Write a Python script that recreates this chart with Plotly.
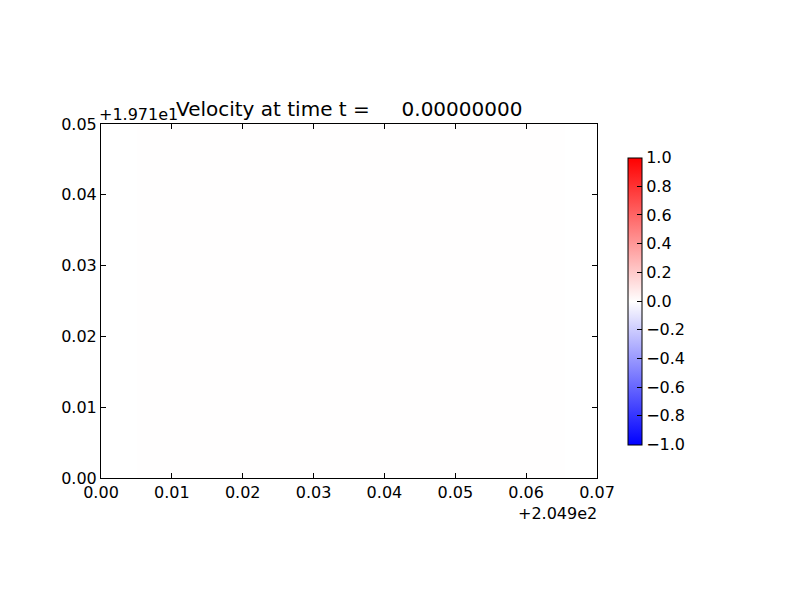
import plotly.graph_objects as go

# ---- data ----
x_offset = 204.9
y_offset = 19.71
# heatmap cell edges (absolute coordinates)
x_edges = [204.9051, 204.9653]
y_edges = [19.71, 19.76]
velocity = [[0.0]]

x_ticks = [0.00, 0.01, 0.02, 0.03, 0.04, 0.05, 0.06, 0.07]
x_tick_labels = ["0.00", "0.01", "0.02", "0.03", "0.04", "0.05", "0.06", "0.07"]
y_ticks = [0.00, 0.01, 0.02, 0.03, 0.04, 0.05]
y_tick_labels = ["0.00", "0.01", "0.02", "0.03", "0.04", "0.05"]
cb_ticks = [-1.0, -0.8, -0.6, -0.4, -0.2, 0.0, 0.2, 0.4, 0.6, 0.8, 1.0]
cb_tick_labels = ["−1.0", "−0.8", "−0.6", "−0.4", "−0.2", "0.0", "0.2", "0.4", "0.6", "0.8", "1.0"]
time_value = 0.0

FONT = "DejaVu Sans"
bwr = [[0.0, "rgb(0,0,255)"], [0.5, "rgb(255,254,254)"], [1.0, "rgb(255,0,0)"]]

fig = go.Figure()
fig.add_trace(go.Heatmap(
    x=x_edges, y=y_edges, z=velocity,
    colorscale=bwr, zmin=-1, zmax=1,
    hoverinfo="skip",
    colorbar=dict(
        x=(627 - 100) / 496, xanchor="left", xpad=0,
        y=0.5, yanchor="middle", len=(443 - 156) / 354, lenmode="fraction",
        thickness=14, thicknessmode="pixels",
        outlinewidth=1, outlinecolor="black",
        ticks="inside", ticklen=5, tickcolor="black", tickwidth=1,
        tickvals=cb_ticks, ticktext=cb_tick_labels,
        tickfont=dict(family=FONT, size=16, color="black"),
        ypad=0,
    ),
))

fig.update_layout(
    width=800, height=600,
    margin=dict(l=93, r=211, t=116, b=130, pad=0),
    paper_bgcolor="white", plot_bgcolor="white",
    font=dict(family=FONT, size=16, color="black"),
    showlegend=False,
    xaxis=dict(
        range=[x_offset + x_ticks[0], x_offset + x_ticks[-1]],
        tickvals=[x_offset + v for v in x_ticks], ticktext=x_tick_labels,
        ticks="inside", ticklen=5, tickcolor="black", tickwidth=1,
        showline=True, linecolor="black", linewidth=1, mirror="ticks",
        showgrid=False, zeroline=False, automargin=False,
        tickfont=dict(family=FONT, size=16, color="black"),
    ),
    yaxis=dict(
        range=[y_offset + y_ticks[0], y_offset + y_ticks[-1]],
        tickvals=[y_offset + v for v in y_ticks], ticktext=y_tick_labels,
        ticks="inside", ticklen=5, tickcolor="black", tickwidth=1,
        showline=True, linecolor="black", linewidth=1, mirror="ticks",
        showgrid=False, zeroline=False, automargin=False,
        tickfont=dict(family=FONT, size=16, color="black"),
    ),
    annotations=[
        dict(text="Velocity at time t =" + "\u00a0" * 5 + f"{time_value:.8f}",
             x=0.5, y=1, xref="paper", yref="paper",
             xanchor="center", yanchor="bottom", yshift=1, showarrow=False,
             font=dict(family=FONT, size=20, color="black")),
        dict(text="+1.971e1", x=0, y=1, xref="paper", yref="paper",
             xanchor="left", yanchor="bottom", xshift=-4, yshift=-2, showarrow=False,
             font=dict(family=FONT, size=16, color="black")),
        dict(text="+2.049e2", x=1, y=0, xref="paper", yref="paper",
             xanchor="right", yanchor="top", yshift=-24, xshift=2, showarrow=False,
             font=dict(family=FONT, size=16, color="black")),
    ],
)

fig.write_html("out.html")
